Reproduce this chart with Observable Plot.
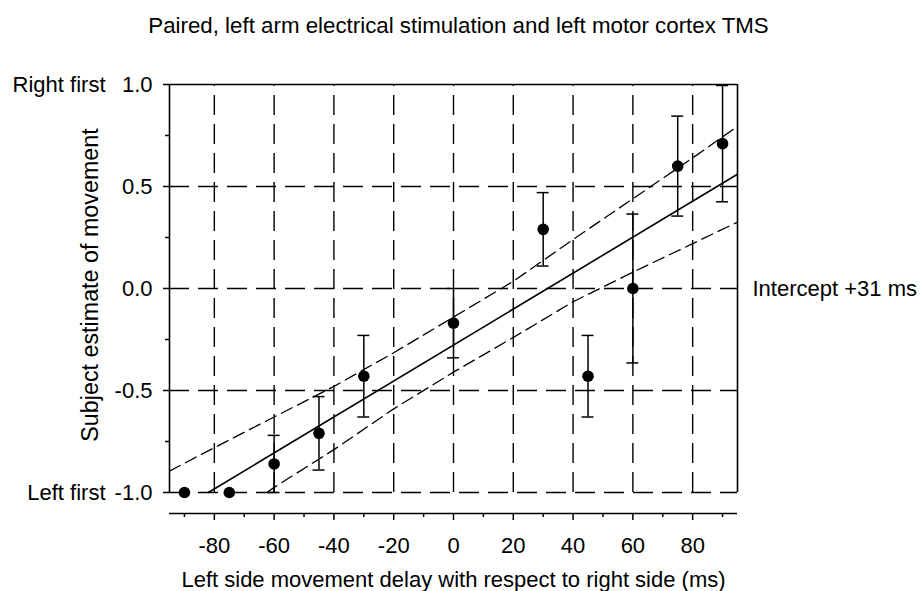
<!DOCTYPE html>
<html><head><meta charset="utf-8">
<script src="https://cdn.jsdelivr.net/npm/d3@7"></script>
<script src="https://cdn.jsdelivr.net/npm/@observablehq/plot@0.6"></script>
<style>
body{margin:0;background:#fff;font-family:"Liberation Sans",Arial,sans-serif;}
#title{position:relative;width:917px;padding-right:5px;height:50px;line-height:52px;text-align:center;font-size:22.3px;color:#000;}
svg{display:block;}
</style></head><body>
<div id="title">Paired, left arm electrical stimulation and left motor cortex TMS</div>
<div id="chart"></div>
<script>
// Data
const delays   = [-90, -75, -60, -45, -30, 0, 30, 45, 60, 75, 90];      // ms
const estimate = [-1.0, -1.0, -0.86, -0.71, -0.43, -0.17, 0.29, -0.43, 0.0, 0.60, 0.71];
const errors   = [0, 0, 0.14, 0.18, 0.20, 0.17, 0.18, 0.20, 0.365, 0.245, 0.285];

const fitX = [-82, 95];
const fitY = [-1.0, 0.56];
const upperX = [-95, -80, -60, -40, -20, 0, 20, 40, 60, 80, 95];
const upperY = [-0.895, -0.78, -0.63, -0.48, -0.315, -0.14, 0.035, 0.24, 0.44, 0.64, 0.795];
const lowerX = [-62.4, -60, -40, -20, 0, 20, 40, 60, 80, 95];
const lowerY = [-1.0, -0.975, -0.79, -0.59, -0.41, -0.24, -0.065, 0.08, 0.22, 0.325];

const xMajorTicks = [-80, -60, -40, -20, 0, 20, 40, 60, 80];
const xMinorTicks = [-90, -70, -50, -30, -10, 10, 30, 50, 70, 90];
const yMajorTicks = [-1.0, -0.5, 0.0, 0.5, 1.0];
const yMinorTicks = [-0.75, -0.25, 0.25, 0.75];
const yGrid = [-1.0, -0.5, 0.0, 0.5];
const sideLabels = ["Right first", "Left first"];
const sideLabelY = [1.0, -1.0];
const interceptLabel = "Intercept +31 ms";
const xTitle = "Left side movement delay with respect to right side (ms)";
const yTitle = "Subject estimate of movement";

const xDomain = [-95, 95];
const yDomain = [-1.103, 1.0];

const pts = delays.map((d, i) => ({x: d, y: estimate[i], e: errors[i]}));
const bars = pts.filter(d => d.e > 0);
const fit = fitX.map((x, i) => ({x, y: fitY[i]}));
const upper = upperX.map((x, i) => ({x, y: upperY[i]}));
const lower = lowerX.map((x, i) => ({x, y: lowerY[i]}));
const capHalf = 2;

const plot = Plot.plot({
  width: 922, height: 541,
  marginTop: 34, marginBottom: 78, marginLeft: 169, marginRight: 185,
  style: {fontFamily: '"Liberation Sans", Arial, sans-serif', fontSize: "22px", color: "#000", background: "#fff", overflow: "visible"},
  x: {domain: xDomain, label: null},
  y: {domain: yDomain, label: null},
  marks: [
    // grid
    Plot.ruleX(xMajorTicks, {y1: -1, y2: 1, stroke: "#000", strokeWidth: 1.4, strokeDasharray: "20,9"}),
    Plot.ruleY(yGrid, {stroke: "#000", strokeWidth: 1.4, strokeDasharray: "20,9"}),
    // frame borders
    Plot.ruleX([xDomain[0], xDomain[1]], {y1: -1, y2: 1, stroke: "#000", strokeWidth: 1.6}),
    Plot.ruleY([1], {stroke: "#000", strokeWidth: 1.6}),
    Plot.ruleY([yDomain[0]], {stroke: "#000", strokeWidth: 1.6}),
    // axes
    Plot.axisX(xMajorTicks, {tickSize: 7, tickPadding: 17, strokeWidth: 1.5, tickFormat: d => `${d}`, label: null}),
    Plot.axisX(xMinorTicks, {tickSize: 4, strokeWidth: 1.5, text: null, label: null}),
    Plot.axisY(yMajorTicks, {tickSize: 6, tickPadding: 11, strokeWidth: 1.5, tickFormat: d => d.toFixed(1), label: null}),
    Plot.axisY(yMinorTicks, {tickSize: 4, strokeWidth: 1.5, text: null, label: null}),
    // regression & confidence bands
    Plot.line(upper, {x: "x", y: "y", stroke: "#000", strokeWidth: 1.3, strokeDasharray: "12,6", clip: true}),
    Plot.line(lower, {x: "x", y: "y", stroke: "#000", strokeWidth: 1.3, strokeDasharray: "12,6", clip: true}),
    Plot.line(fit, {x: "x", y: "y", stroke: "#000", strokeWidth: 1.6, clip: true}),
    // error bars
    Plot.ruleX(bars, {x: "x", y1: d => d.y - d.e, y2: d => d.y + d.e, stroke: "#000", strokeWidth: 1.5, clip: true}),
    Plot.ruleY(bars, {y: d => d.y - d.e, x1: d => d.x - capHalf, x2: d => d.x + capHalf, stroke: "#000", strokeWidth: 1.5, clip: true}),
    Plot.ruleY(bars, {y: d => d.y + d.e, x1: d => d.x - capHalf, x2: d => d.x + capHalf, stroke: "#000", strokeWidth: 1.5, clip: true}),
    Plot.dot(pts, {x: "x", y: "y", r: 5.8, fill: "#000", stroke: "none"}),
    // annotations
    Plot.text(sideLabels, {frameAnchor: "left", y: (d, i) => sideLabelY[i], dx: -64, textAnchor: "end", fill: "#000"}),
    Plot.text([interceptLabel], {frameAnchor: "right", y: () => 0, dx: 15, textAnchor: "start", fill: "#000"}),
    Plot.text([yTitle], {frameAnchor: "left", dx: -79, dy: -14, rotate: -90, textAnchor: "middle", lineAnchor: "middle", fontSize: 23.3, fill: "#000"}),
    Plot.text([xTitle], {frameAnchor: "bottom", dx: 0, dy: 66, textAnchor: "middle", lineAnchor: "middle", fill: "#000"})
  ]
});
document.getElementById("chart").appendChild(plot);
</script>
</body></html>
